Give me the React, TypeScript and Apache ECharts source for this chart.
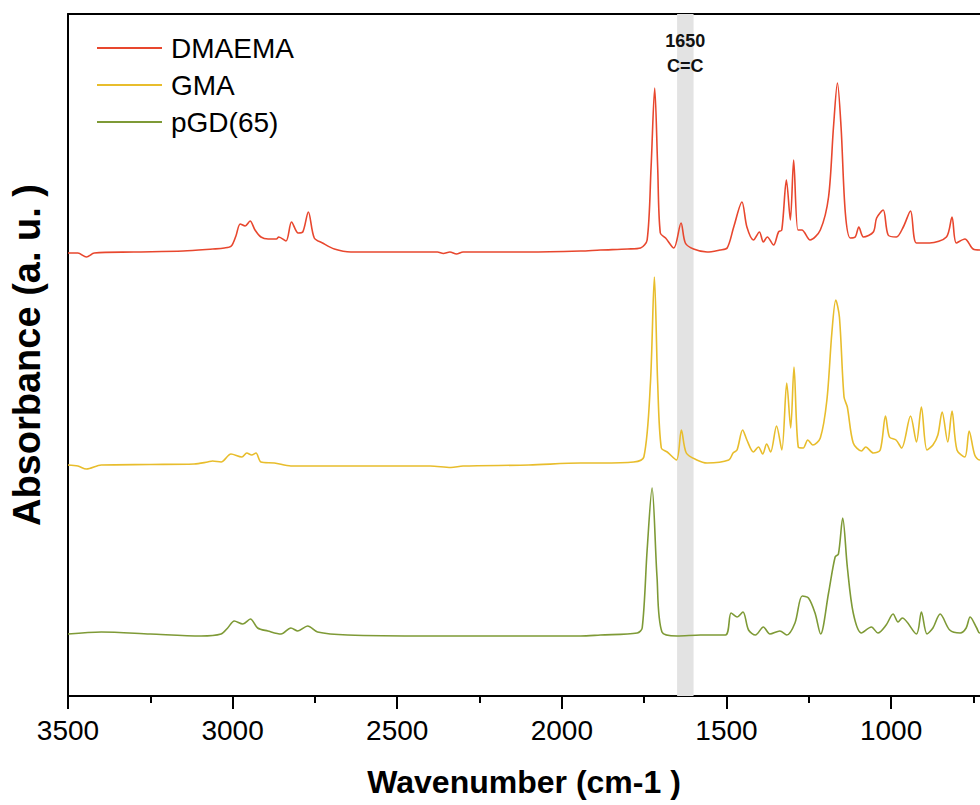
import React, { useEffect, useRef } from "react";
import * as echarts from "echarts";

// ---- Data (wavenumber in cm-1, absorbance in a.u., traces offset for display) ----
const seriesNames = ["DMAEMA", "GMA", "pGD(65)"];
const seriesColors = ["#E8472E", "#E8BD2C", "#7E9A36"];

const dmaemaW = [3500, 3470, 3444, 3420, 3300, 3150, 3060, 3025, 3004, 2990, 2977, 2962, 2947, 2932, 2914, 2892, 2867, 2860, 2838, 2821, 2801, 2787, 2770, 2752, 2727, 2691, 2641, 2500, 2378, 2360, 2340, 2320, 2300, 2100, 1943, 1883, 1800, 1761, 1741, 1729, 1718, 1709, 1701, 1685, 1660, 1638, 1625, 1600, 1559, 1520, 1498, 1478, 1453, 1438, 1418, 1400, 1388, 1376, 1357, 1342, 1332, 1318, 1306, 1296, 1283, 1271, 1246, 1215, 1190, 1175, 1163, 1152, 1139, 1124, 1109, 1098, 1084, 1054, 1044, 1024, 1009, 984, 963, 941, 923, 883, 832, 815, 802, 776, 751, 731, 700];
const dmaemaA = [4.43, 4.43, 4.39, 4.43, 4.44, 4.45, 4.47, 4.48, 4.50, 4.60, 4.72, 4.70, 4.75, 4.66, 4.59, 4.57, 4.57, 4.59, 4.55, 4.74, 4.63, 4.64, 4.84, 4.58, 4.53, 4.47, 4.44, 4.44, 4.44, 4.425, 4.44, 4.42, 4.44, 4.44, 4.45, 4.46, 4.47, 4.48, 4.56, 5.29, 6.08, 5.29, 4.63, 4.58, 4.48, 4.73, 4.53, 4.47, 4.44, 4.46, 4.48, 4.69, 4.94, 4.69, 4.56, 4.64, 4.54, 4.59, 4.51, 4.64, 4.66, 5.16, 4.76, 5.36, 4.66, 4.66, 4.56, 4.66, 4.99, 5.69, 6.13, 5.69, 4.83, 4.58, 4.59, 4.69, 4.59, 4.64, 4.78, 4.86, 4.61, 4.59, 4.69, 4.85, 4.53, 4.53, 4.59, 4.79, 4.53, 4.57, 4.47, 4.46, 4.46];

const gmaW = [3500, 3470, 3444, 3399, 3250, 3117, 3076, 3061, 3035, 3005, 2972, 2957, 2942, 2929, 2914, 2873, 2823, 2600, 2400, 2337, 2300, 2100, 1943, 1883, 1782, 1751, 1731, 1719, 1709, 1698, 1680, 1652, 1637, 1622, 1590, 1559, 1493, 1480, 1468, 1451, 1438, 1418, 1403, 1390, 1378, 1366, 1348, 1332, 1317, 1305, 1295, 1282, 1267, 1253, 1238, 1215, 1195, 1180, 1168, 1157, 1143, 1133, 1115, 1090, 1077, 1054, 1033, 1017, 1005, 985, 968, 941, 923, 908, 891, 873, 858, 845, 828, 815, 800, 776, 763, 746, 731, 700];
const gmaA = [2.31, 2.30, 2.27, 2.31, 2.315, 2.32, 2.34, 2.35, 2.34, 2.42, 2.39, 2.43, 2.41, 2.43, 2.34, 2.33, 2.30, 2.30, 2.30, 2.285, 2.30, 2.31, 2.33, 2.33, 2.34, 2.39, 3.13, 4.19, 3.13, 2.48, 2.44, 2.36, 2.66, 2.43, 2.36, 2.33, 2.36, 2.43, 2.46, 2.66, 2.56, 2.44, 2.49, 2.42, 2.52, 2.44, 2.70, 2.46, 3.13, 2.68, 3.29, 2.49, 2.48, 2.56, 2.51, 2.58, 2.96, 3.63, 3.96, 3.79, 2.99, 2.89, 2.53, 2.45, 2.49, 2.43, 2.46, 2.80, 2.59, 2.56, 2.48, 2.80, 2.54, 2.89, 2.46, 2.51, 2.61, 2.84, 2.54, 2.85, 2.46, 2.39, 2.65, 2.41, 2.36, 2.36];

const pgdW = [3500, 3399, 3250, 3096, 3035, 3015, 2995, 2969, 2946, 2924, 2893, 2853, 2823, 2802, 2772, 2742, 2651, 2400, 2200, 1943, 1883, 1771, 1756, 1741, 1726, 1711, 1696, 1650, 1579, 1503, 1486, 1468, 1450, 1433, 1412, 1388, 1368, 1338, 1317, 1292, 1270, 1251, 1231, 1214, 1190, 1170, 1160, 1147, 1133, 1115, 1090, 1060, 1040, 1015, 994, 979, 966, 923, 908, 891, 873, 851, 822, 790, 772, 760, 740, 731, 700];
const pgdA = [0.62, 0.64, 0.62, 0.60, 0.62, 0.68, 0.75, 0.72, 0.77, 0.68, 0.65, 0.62, 0.68, 0.65, 0.70, 0.64, 0.61, 0.60, 0.60, 0.60, 0.61, 0.63, 0.68, 1.46, 2.08, 1.19, 0.64, 0.60, 0.61, 0.61, 0.83, 0.79, 0.84, 0.66, 0.61, 0.69, 0.62, 0.65, 0.61, 0.73, 1.00, 0.98, 0.83, 0.62, 1.03, 1.39, 1.42, 1.78, 1.29, 0.83, 0.63, 0.69, 0.63, 0.71, 0.82, 0.74, 0.78, 0.62, 0.84, 0.62, 0.68, 0.82, 0.66, 0.63, 0.68, 0.79, 0.68, 0.63, 0.63];

const majorTicks = [3500, 3000, 2500, 2000, 1500, 1000];
const minorTicks = [3250, 2750, 2250, 1750, 1250, 750];
const bandRange = [1650, 1600];
const bandLabel = "1650\nC=C";

const zip = (w: number[], a: number[]) => w.map((x, i) => [x, a[i]]);

export default function App() {
  const ref = useRef<HTMLDivElement>(null);
  useEffect(() => {
    if (!ref.current) return;
    const chart = echarts.init(ref.current, null, { renderer: "svg" });
    const font = "'Liberation Sans', Arial, sans-serif";
    const spectra = [zip(dmaemaW, dmaemaA), zip(gmaW, gmaA), zip(pgdW, pgdA)];
    chart.setOption({
      animation: false,
      backgroundColor: "#ffffff",
      grid: { left: 67, right: 0, top: 14, bottom: 109, containLabel: false },
      legend: {
        data: seriesNames,
        orient: "vertical",
        left: 92,
        top: 29,
        icon: "rect",
        itemWidth: 65,
        itemHeight: 2,
        itemGap: 9,
        textStyle: { fontFamily: font, fontSize: 28, color: "#000", lineHeight: 28, padding: [0, 0, 0, 4] },
      },
      xAxis: [
        {
          type: "value",
          inverse: true,
          min: 730,
          max: 3500,
          position: "bottom",
          name: "Wavenumber (cm-1 )",
          nameLocation: "middle",
          nameGap: 70,
          nameTextStyle: { fontFamily: font, fontSize: 32, fontWeight: "bold", color: "#000" },
          axisLine: { show: true, onZero: false, lineStyle: { color: "#000", width: 2 } },
          axisTick: { show: true, length: 13, lineStyle: { color: "#000", width: 2 }, customValues: majorTicks },
          axisLabel: {
            fontFamily: font,
            fontSize: 28,
            color: "#000",
            margin: 20,
            customValues: majorTicks,
            formatter: (v: number) => String(Math.round(v)),
          },
          splitLine: { show: false },
        },
        {
          type: "value",
          inverse: true,
          min: 730,
          max: 3500,
          position: "bottom",
          axisLine: { show: false },
          axisTick: { show: true, length: 7, lineStyle: { color: "#000", width: 2 }, customValues: minorTicks },
          axisLabel: { show: false },
          splitLine: { show: false },
        },
        {
          type: "value",
          inverse: true,
          min: 730,
          max: 3500,
          position: "top",
          axisLine: { show: true, onZero: false, lineStyle: { color: "#000", width: 2 } },
          axisTick: { show: false },
          axisLabel: { show: false },
          splitLine: { show: false },
        },
      ],
      yAxis: {
        type: "value",
        min: 0,
        max: 6.82,
        name: "Absorbance (a. u. )",
        nameLocation: "middle",
        nameGap: 22,
        nameTextStyle: { fontFamily: font, fontSize: 38, fontWeight: "bold", color: "#000" },
        axisLine: { show: true, onZero: false, lineStyle: { color: "#000", width: 2 } },
        axisTick: { show: false },
        axisLabel: { show: false },
        splitLine: { show: false },
      },
      series: [
        {
          name: "band",
          type: "line",
          data: [],
          silent: true,
          markArea: {
            silent: true,
            itemStyle: { color: "#e3e3e3" },
            label: {
              show: true,
              position: "insideTop",
              distance: 14,
              formatter: bandLabel,
              fontFamily: font,
              fontSize: 18,
              fontWeight: "bold",
              lineHeight: 25,
              color: "#111",
              align: "center",
            },
            data: [[{ xAxis: bandRange[0] }, { xAxis: bandRange[1] }]],
          },
        },
        ...seriesNames.map((name, i) => ({
          name,
          type: "line",
          data: spectra[i],
          showSymbol: false,
          symbol: "none",
          smooth: 0.3,
          color: seriesColors[i],
          lineStyle: { color: seriesColors[i], width: 1.6 },
          z: 3,
        })),
      ],
    });
    return () => chart.dispose();
  }, []);
  return <div ref={ref} style={{ position: "fixed", left: 0, top: 0, width: 980, height: 805, background: "#fff" }} />;
}
